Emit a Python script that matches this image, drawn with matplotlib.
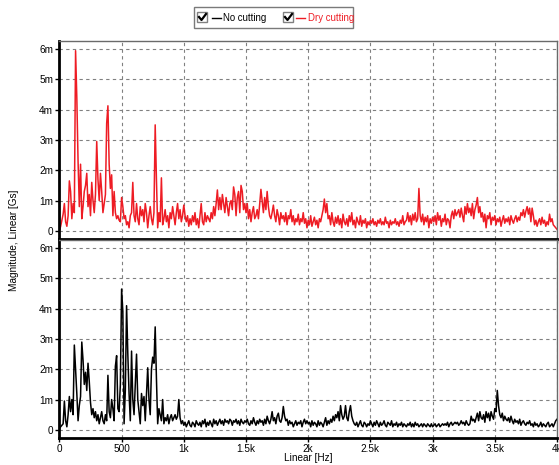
import matplotlib
matplotlib.use("Agg")
import matplotlib.pyplot as plt
from matplotlib.patches import Rectangle
from matplotlib.lines import Line2D
import numpy as np

# ------------------------------------------------------------
# data (magnitude in mGs, 10 Hz spacing, 0 .. 4000 Hz)
# ------------------------------------------------------------
FREQ_STEP = 10
FREQ_MAX = 4000

dry_cutting = [
    0.0, 0.15, 0.35, 0.55, 0.9, 0.3, 0.15, 0.5, 1.65, 1.3,        # 0
    0.4, 0.9, 0.6, 5.95, 4.4, 2.3, 0.8, 2.2, 0.4, 0.8,            # 100
    1.3, 1.5, 1.9, 0.8, 1.2, 0.5, 1.6, 1.0, 0.6, 1.2,             # 200
    2.95, 1.7, 1.0, 1.9, 1.3, 0.6, 0.9, 1.2, 3.55, 4.13,          # 300
    2.2, 1.4, 1.85, 0.5, 1.3, 0.6, 0.4, 0.5, 0.35, 0.3,           # 400
    1.1, 0.8, 0.4, 0.5, 0.2, 0.3, 0.1, 0.5, 0.6, 1.6,             # 500
    0.5, 0.3, 0.9, 0.4, 0.2, 0.8, 0.5, 0.7, 0.3, 0.9,             # 600
    0.6, 0.1, 0.5, 0.8, 0.4, 0.2, 0.6, 3.5, 1.7, 0.1,             # 700
    0.6, 0.3, 1.75, 0.2, 0.4, 0.7, 0.3, 0.5, 0.1, 0.6,            # 800
    0.4, 0.8, 0.5, 0.2, 0.6, 0.9, 0.4, 0.7, 0.3, 0.5,             # 900
    0.85, 0.5, 0.3, 0.5, 0.15, 0.4, 0.2, 0.5, 0.3, 0.6,           # 1000
    0.2, 0.4, 0.1, 0.5, 0.9, 0.3, 0.2, 0.6, 0.3, 0.5,             # 1100
    0.4, 0.3, 0.6, 0.4, 0.8, 0.5, 0.9, 1.35, 0.7, 1.1,            # 1200
    0.7, 1.2, 0.9, 0.6, 1.1, 0.8, 0.5, 0.9, 1.0, 0.7,             # 1300
    1.45, 1.2, 0.5, 1.1, 1.3, 0.6, 1.5, 1.3, 0.7, 0.9,            # 1400
    0.6, 0.9, 0.4, 0.7, 0.3, 0.6, 0.8, 0.4, 0.5, 0.7,             # 1500
    0.4, 0.9, 1.37, 1.0, 0.6, 1.1, 0.7, 1.3, 0.8, 0.5,            # 1600
    0.4, 0.6, 0.85, 0.5, 0.3, 0.7, 0.5, 0.2, 0.6, 0.4,            # 1700
    0.5, 0.3, 0.6, 0.2, 0.5, 0.4, 0.7, 0.3, 0.5, 0.2,             # 1800
    0.4, 0.3, 0.55, 0.2, 0.4, 0.3, 0.6, 0.25, 0.4, 0.1,           # 1900
    0.35, 0.2, 0.5, 0.15, 0.3, 0.45, 0.2, 0.35, 0.1, 0.4,         # 2000
    0.3, 0.5, 0.7, 1.05, 0.6, 0.9, 0.4, 0.5, 0.2, 0.6,            # 2100
    0.3, 0.15, 0.45, 0.25, 0.5, 0.2, 0.4, 0.1, 0.55, 0.3,         # 2200
    0.2, 0.4, 0.15, 0.5, 0.3, 0.6, 0.2, 0.35, 0.1, 0.45,          # 2300
    0.3, 0.2, 0.5, 0.15, 0.35, 0.25, 0.4, 0.1, 0.3, 0.2,          # 2400
    0.35, 0.25, 0.4, 0.2, 0.3, 0.15, 0.35, 0.25, 0.4, 0.2,        # 2500
    0.3, 0.2, 0.45, 0.25, 0.3, 0.1, 0.35, 0.2, 0.3, 0.25,         # 2600
    0.4, 0.2, 0.3, 0.15, 0.35, 0.25, 0.5, 0.2, 0.3, 0.35,         # 2700
    0.6, 0.3, 0.5, 0.2, 0.55, 0.35, 0.6, 0.3, 0.4, 1.4,           # 2800
    0.5, 0.3, 0.55, 0.2, 0.45, 0.3, 0.5, 0.1, 0.4, 0.25,          # 2900
    0.45, 0.3, 0.5, 0.2, 0.6, 0.35, 0.5, 0.15, 0.4, 0.3,          # 3000
    0.55, 0.2, 0.4, 0.35, 0.1, 0.5, 0.65, 0.4, 0.7, 0.5,          # 3100
    0.6, 0.7, 0.45, 0.75, 0.5, 0.3, 0.8, 0.55, 0.9, 0.6,          # 3200
    0.75, 0.5, 0.9, 0.4, 0.7, 0.85, 1.1, 0.6, 0.8, 0.45,          # 3300
    0.6, 0.3, 0.55, 0.1, 0.5, 0.4, 0.6, 0.2, 0.45, 0.35,          # 3400
    0.5, 0.2, 0.4, 0.3, 0.45, 0.15, 0.35, 0.5, 0.25, 0.4,         # 3500
    0.3, 0.45, 0.2, 0.5, 0.35, 0.25, 0.4, 0.5, 0.3, 0.45,         # 3600
    0.35, 0.6, 0.5, 0.7, 0.45, 0.65, 0.8, 0.55, 0.75, 0.3,        # 3700
    0.75, 0.5, 0.2, 0.35, 0.15, 0.3, 0.4, 0.2, 0.45, 0.25,        # 3800
    0.35, 0.15, 0.3, 0.2, 0.55, 0.3, 0.4, 0.2, 0.15, 0.1,         # 3900
    0.05,                                                         # 4000
]

no_cutting = [
    0.05, 0.1, 0.15, 0.2, 0.95, 0.3, 0.1, 0.5, 1.1, 0.6,          # 0
    1.0, 0.5, 2.8, 2.0, 1.2, 0.3, 0.8, 1.1, 2.9, 2.3,             # 100
    1.5, 1.9, 1.3, 2.2, 1.6, 0.9, 0.5, 0.7, 0.4, 0.6,             # 200
    0.3, 0.5, 0.2, 0.4, 0.6, 0.3, 0.2, 0.5, 0.3, 1.8,             # 300
    0.6, 0.4, 1.0, 0.7, 0.3, 2.1, 2.45, 0.7, 0.6, 1.5,            # 400
    4.65, 3.9, 0.2, 1.3, 4.1, 2.5, 1.2, 0.3, 2.6, 1.0,            # 500
    0.5, 1.5, 2.5, 1.0, 0.6, 0.2, 1.2, 0.8, 1.1, 0.3,             # 600
    1.2, 2.05, 1.0, 0.5, 2.0, 2.4, 2.2, 3.4, 1.7, 0.2,            # 700
    0.7, 0.5, 0.3, 1.0, 0.2, 0.4, 0.3, 0.5, 0.2, 0.4,             # 800
    0.5, 0.3, 0.4, 0.5, 0.35, 0.45, 1.0, 0.4, 0.2, 0.3,           # 900
    0.15, 0.25, 0.1, 0.2, 0.3, 0.15, 0.1, 0.25, 0.2, 0.1,         # 1000
    0.3, 0.2, 0.15, 0.25, 0.1, 0.3, 0.2, 0.35, 0.1, 0.25,         # 1100
    0.15, 0.3, 0.2, 0.1, 0.35, 0.2, 0.3, 0.15, 0.25, 0.35,        # 1200
    0.2, 0.3, 0.15, 0.35, 0.25, 0.3, 0.2, 0.35, 0.3, 0.15,        # 1300
    0.3, 0.25, 0.35, 0.2, 0.3, 0.15, 0.35, 0.25, 0.2, 0.3,        # 1400
    0.25, 0.35, 0.2, 0.15, 0.3, 0.2, 0.4, 0.25, 0.15, 0.3,        # 1500
    0.2, 0.35, 0.25, 0.3, 0.15, 0.35, 0.2, 0.45, 0.3, 0.2,        # 1600
    0.35, 0.6, 0.3, 0.4, 0.2, 0.45, 0.55, 0.3, 0.25, 0.4,         # 1700
    0.77, 0.45, 0.3, 0.35, 0.15, 0.3, 0.2, 0.25, 0.1, 0.2,        # 1800
    0.3, 0.15, 0.25, 0.2, 0.3, 0.1, 0.25, 0.35, 0.2, 0.3,         # 1900
    0.2, 0.25, 0.1, 0.3, 0.15, 0.25, 0.2, 0.1, 0.3, 0.15,         # 2000
    0.25, 0.2, 0.1, 0.25, 0.4, 0.15, 0.3, 0.2, 0.35, 0.25,        # 2100
    0.45, 0.3, 0.5, 0.4, 0.6, 0.3, 0.8, 0.5, 0.35, 0.45,          # 2200
    0.8, 0.4, 0.3, 0.6, 0.8, 0.45, 0.3, 0.2, 0.15, 0.25,          # 2300
    0.1, 0.2, 0.3, 0.15, 0.1, 0.25, 0.2, 0.1, 0.2, 0.15,          # 2400
    0.3, 0.2, 0.1, 0.25, 0.15, 0.3, 0.2, 0.1, 0.25, 0.15,         # 2500
    0.2, 0.3, 0.15, 0.1, 0.25, 0.2, 0.15, 0.3, 0.1, 0.2,          # 2600
    0.15, 0.25, 0.1, 0.2, 0.15, 0.25, 0.1, 0.2, 0.15, 0.1,        # 2700
    0.2, 0.15, 0.25, 0.1, 0.2, 0.1, 0.25, 0.15, 0.2, 0.1,         # 2800
    0.15, 0.2, 0.1, 0.2, 0.15, 0.1, 0.2, 0.15, 0.1, 0.2,          # 2900
    0.1, 0.15, 0.2, 0.1, 0.15, 0.2, 0.1, 0.15, 0.2, 0.15,         # 3000
    0.2, 0.15, 0.25, 0.1, 0.2, 0.25, 0.15, 0.2, 0.25, 0.2,        # 3100
    0.25, 0.15, 0.2, 0.3, 0.2, 0.25, 0.15, 0.3, 0.2, 0.15,        # 3200
    0.2, 0.45, 0.3, 0.35, 0.25, 0.4, 0.55, 0.3, 0.6, 0.4,         # 3300
    0.35, 0.5, 0.25, 0.6, 0.4, 0.55, 0.3, 0.6, 0.45, 0.35,        # 3400
    0.7, 0.6, 1.3, 0.8, 0.5, 0.4, 0.55, 0.3, 0.45, 0.35,          # 3500
    0.3, 0.4, 0.25, 0.45, 0.3, 0.2, 0.35, 0.25, 0.3, 0.2,         # 3600
    0.35, 0.15, 0.25, 0.3, 0.2, 0.15, 0.25, 0.2, 0.3, 0.15,       # 3700
    0.2, 0.1, 0.25, 0.15, 0.2, 0.1, 0.15, 0.25, 0.1, 0.2,         # 3800
    0.15, 0.1, 0.2, 0.25, 0.1, 0.15, 0.2, 0.1, 0.2, 0.3,          # 3900
    0.35,                                                         # 4000
]

x_ticks = [0, 500, 1000, 1500, 2000, 2500, 3000, 3500, 4000]
x_tick_labels = ["0", "500", "1k", "1.5k", "2k", "2.5k", "3k", "3.5k", "4k"]
y_ticks = [0, 1, 2, 3, 4, 5, 6]
y_tick_labels = ["0", "1m", "2m", "3m", "4m", "5m", "6m"]

RED = "#ee1c24"
GRID = "#808080"
FS = 7.2

plt.rcParams.update({
    "font.family": ["Liberation Sans", "DejaVu Sans"],
    "font.size": FS,
})

freq = np.arange(0, FREQ_MAX + FREQ_STEP, FREQ_STEP)

W, H = 559, 465
fig = plt.figure(figsize=(W / 100, H / 100), dpi=100)
fig.patch.set_facecolor("white")

left = 59.4 / W
width = (557.0 - 59.4) / W
ax_top = fig.add_axes([left, 1 - 239 / H, width, 198 / H])
ax_bot = fig.add_axes([left, 1 - 438 / H, width, 198 / H])


def style_axis(ax, show_x):
    ax.set_xlim(0, FREQ_MAX)
    ax.set_ylim(-0.27, 6.27)
    ax.set_xticks(x_ticks)
    ax.set_yticks(y_ticks)
    ax.set_yticklabels(y_tick_labels)
    if show_x:
        ax.set_xticklabels(x_tick_labels)
    else:
        ax.tick_params(axis="x", length=0, labelbottom=False)
    ax.grid(True, color=GRID, lw=0.8, ls=(0, (3, 3)))
    ax.set_axisbelow(True)
    ax.tick_params(axis="both", direction="out", length=3, width=1,
                   pad=1.5, labelsize=FS)
    for side in ["top", "right"]:
        ax.spines[side].set_color("#6a6a6a")
        ax.spines[side].set_linewidth(1.0)
    ax.spines["left"].set_linewidth(2.0)
    ax.spines["left"].set_color("black")
    ax.spines["bottom"].set_linewidth(2.0)
    ax.spines["bottom"].set_color("black")


ax_top.plot(freq, dry_cutting, color=RED, lw=1.1)
style_axis(ax_top, show_x=False)

ax_bot.plot(freq, no_cutting, color="black", lw=1.1)
style_axis(ax_bot, show_x=True)

fig.text(308 / W, 1 - 458 / H, "Linear [Hz]", ha="center", va="center",
         fontsize=FS)
fig.text(14 / W, 1 - 240 / H, "Magnitude, Linear [Gs]", rotation=90,
         ha="center", va="center", fontsize=FS)

# legend box with check boxes
fig.patches.append(Rectangle((194 / W, 1 - 28 / H), 159 / W, 21 / H,
                             transform=fig.transFigure, facecolor="white",
                             edgecolor="#7a7a7a", lw=1.0))


def check_box(x0, y0):
    fig.patches.append(Rectangle((x0 / W, 1 - (y0 + 10) / H), 10 / W, 10 / H,
                                 transform=fig.transFigure, facecolor="white",
                                 edgecolor="#808080", lw=1.0))
    xs = [x0 + 2, x0 + 4.5, x0 + 9]
    ys = [y0 + 4.5, y0 + 7.5, y0 + 1.5]
    fig.lines.append(Line2D([v / W for v in xs], [1 - v / H for v in ys],
                            transform=fig.transFigure, color="black", lw=1.6))


check_box(197, 12.5)
check_box(283, 12.5)
fig.lines.append(Line2D([212 / W, 221 / W], [1 - 18 / H, 1 - 18 / H],
                        transform=fig.transFigure, color="black", lw=1.0))
fig.text(223 / W, 1 - 18 / H, "No cutting", ha="left", va="center",
         fontsize=6.9, color="black")
fig.lines.append(Line2D([296 / W, 305 / W], [1 - 18 / H, 1 - 18 / H],
                        transform=fig.transFigure, color=RED, lw=1.0))
fig.text(308 / W, 1 - 18 / H, "Dry cutting", ha="left", va="center",
         fontsize=6.9, color=RED)

fig.savefig("out.png", dpi=100)
